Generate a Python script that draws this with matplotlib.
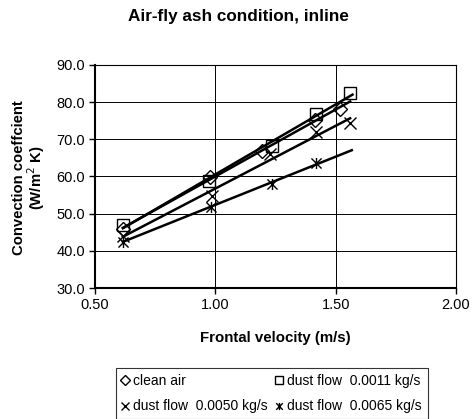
import numpy as np
import matplotlib
matplotlib.use("Agg")
import matplotlib.pyplot as plt
from matplotlib.path import Path

plt.rcParams['font.family'] = ['Liberation Sans', 'DejaVu Sans']

# data
clean_x = [0.616, 0.978, 1.194, 1.414, 1.518]
clean_y = [45.8, 59.9, 66.8, 75.3, 78.2]
d0011_x = [0.616, 0.975, 1.235, 1.418, 1.560]
d0011_y = [47.0, 58.8, 68.1, 76.7, 82.5]
d0050_x = [0.616, 0.986, 1.227, 1.420, 1.560]
d0050_y = [44.0, 54.8, 66.0, 71.9, 74.4]
d0065_x = [0.616, 0.980, 1.235, 1.420]
d0065_y = [42.5, 51.9, 58.0, 63.6]
labels = ["clean air", "dust flow  0.0011 kg/s",
          "dust flow  0.0050 kg/s", "dust flow  0.0065 kg/s"]
trend_end = [1.56, 1.57, 1.56, 1.567]

xticks = [0.5, 1.0, 1.5, 2.0]
yticks = [30, 40, 50, 60, 70, 80, 90]

star = Path([(-1, -1), (1, 1), (-1, 1), (1, -1), (0, -1.1), (0, 1.1)],
            [Path.MOVETO, Path.LINETO, Path.MOVETO, Path.LINETO,
             Path.MOVETO, Path.LINETO])

fig = plt.figure(figsize=(4.73, 4.19), dpi=100)
ax = fig.add_axes([95/473, 1-288/419, (456-95)/473, (288-65)/419])

series = [(clean_x, clean_y, 'D', 7.5), (d0011_x, d0011_y, 's', 8.5),
          (d0050_x, d0050_y, 'x', 8.5), (d0065_x, d0065_y, star, 8.0)]
handles = []
for (xs, ys, m, ms), lab, xe in zip(series, labels, trend_end):
    h, = ax.plot(xs, ys, linestyle='none', marker=m, markersize=ms,
                 markerfacecolor='none', markeredgecolor='black',
                 markeredgewidth=1.0, label=lab, zorder=3)
    handles.append(h)
    p = np.polyfit(xs, ys, 1)
    xx = np.array([min(xs), xe])
    ax.plot(xx, np.polyval(p, xx), color='black', lw=1.8, zorder=4)

ax.set_xlim(0.5, 2.0)
ax.set_ylim(30, 90)
ax.set_xticks(xticks)
ax.set_yticks(yticks)
ax.set_xticklabels([f"{v:.2f}" for v in xticks], fontsize=10.5)
ax.set_yticklabels([f"{v:.1f}" for v in yticks], fontsize=10.5)
ax.tick_params(direction='out', length=4, width=1, color='black', pad=3)
ax.grid(True, color='black', lw=0.7)
ax.set_axisbelow(True)
for s in ['top', 'right']:
    ax.spines[s].set_linewidth(0.8)
for s in ['left', 'bottom']:
    ax.spines[s].set_linewidth(1.5)

fig.text(275/473, 1-338/419, "Frontal velocity (m/s)", ha='center',
         va='center', fontsize=10.8, fontweight='bold')
fig.text(29.5/473, 1-178/419, "Convection coeffcient\n(W/m$^2$ K)", ha='center',
         va='center', rotation=90, fontsize=10.7, fontweight='bold',
         linespacing=0.9, multialignment='center')

fig.text(0.505, 1-16/419, "Air-fly ash condition, inline", ha='center',
         va='center', fontsize=12.3, fontweight='bold')

order = [0, 2, 1, 3]
leg = fig.legend([handles[i] for i in order], [labels[i] for i in order],
                 ncol=2, loc='upper left', bbox_to_anchor=(116/473, 1-368/419),
                 fontsize=10, frameon=True, fancybox=False, edgecolor='black',
                 markerscale=0.65, handlelength=0.5, handletextpad=0.35,
                 columnspacing=0.55, borderpad=0.4, labelspacing=0.85,
                 borderaxespad=0)
leg.get_frame().set_linewidth(0.8)

fig.savefig("out.png", dpi=100)
